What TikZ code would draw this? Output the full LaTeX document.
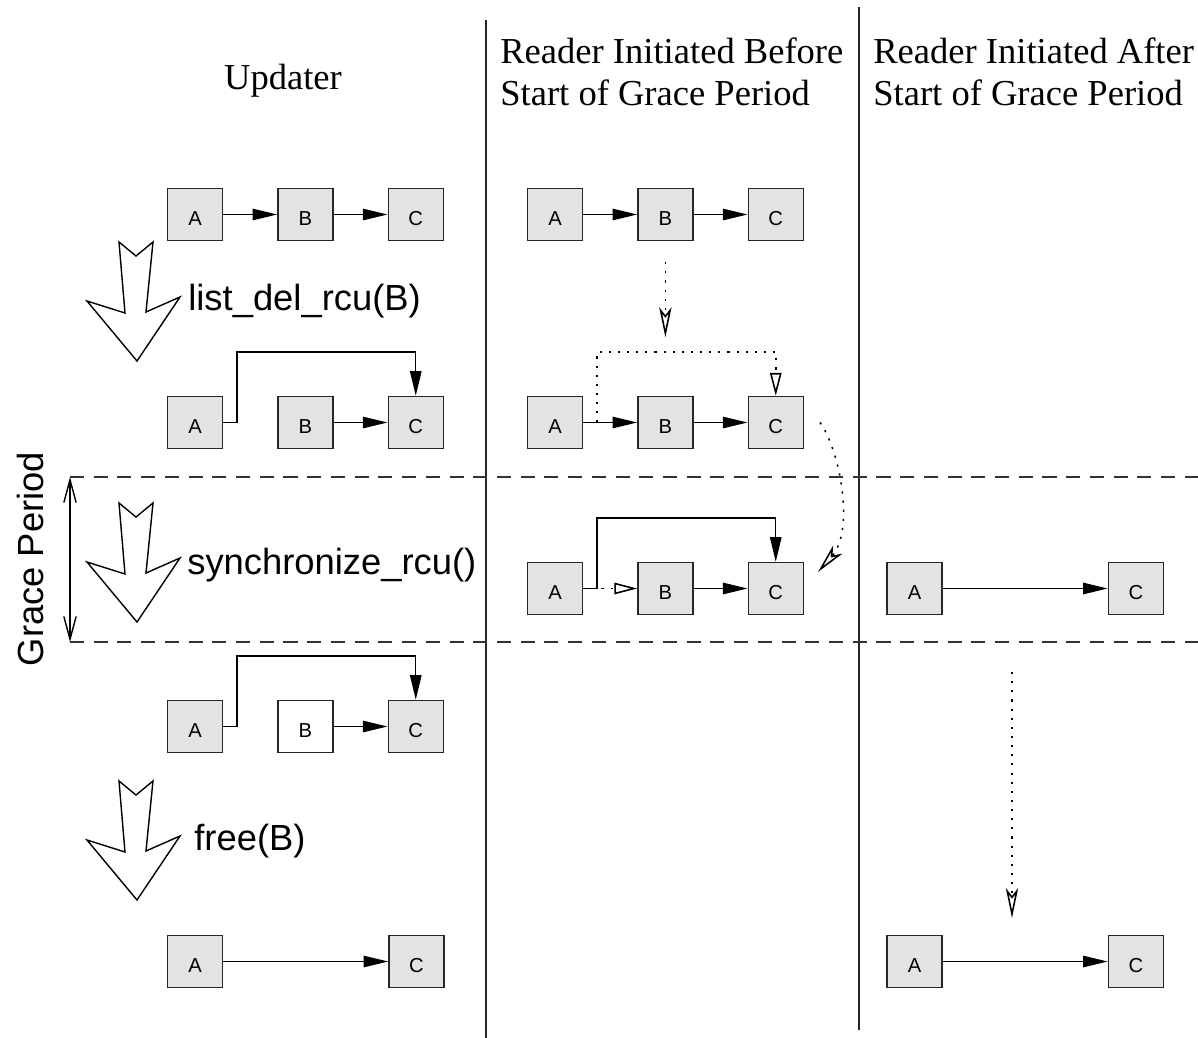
\documentclass[tikz,border=0pt]{standalone}
\usepackage{fontspec}
\setmainfont{Liberation Serif}
\setsansfont{Liberation Sans}
\usetikzlibrary{positioning, arrows.meta, calc}

\tikzset{
    flecha_grande/.pic={
        \draw[line width=0.8pt, fill=white] (0,0) -- (17,14) -- (34,0) -- (27,70) -- (61,55)
            -- (18,119) -- (-32,59) -- (6,71) -- cycle;
    }
}

\begin{document}
\begin{tikzpicture}[
    x=0.02cm, y=-0.02cm,
    node distance=1.08cm,
    nodo/.style={
        rectangle,
        draw=black!85,
        line width=0.8pt,
        fill=black!11, % gris claro
        font=\sffamily\fontsize{11.5}{12}\selectfont,
        text height=13pt, text depth=0pt,
        inner sep=0pt,
        minimum width=1.1cm,
        minimum height=1.04cm,
    },
    nodo_libre/.style={nodo, fill=white}, % B ya liberado
    titulo/.style={font=\fontsize{20.8}{23.8}\selectfont, inner sep=0pt, align=left},
    etiqueta/.style={font=\sffamily\fontsize{20.7}{24}\selectfont, inner sep=0pt},
    arr/.style={-{Triangle[length=14pt, width=6.5pt]}, line width=0.8pt},
    punteado/.style={line width=0.9pt, dash pattern=on 1.2pt off 4pt},
    arr_punto/.style={punteado, -{Stealth[open, length=17pt, width=7pt, inset=4.5pt]}},
    arr_tri/.style={punteado, -{Triangle[open, length=13pt, width=6.5pt]}},
    rayas/.style={line width=0.8pt, draw=black!80, dash pattern=on 8pt off 5.5pt},
    columna/.style={line width=0.9pt, draw=black!85},
]
\useasboundingbox (0,0) rectangle (1198,1038);

% Titulos
\node[titulo, anchor=base] (tit_upd) at (283,89) {Updater};
\node[titulo, anchor=north west] (tit_antes) at (500,37.5) {Reader Initiated Before\\Start of Grace Period};
\node[titulo, anchor=north west] (tit_despues) at (873,37.5) {Reader Initiated After\\Start of Grace Period};

% Columnas y periodo de gracia
\draw[columna] (486,20) -- (486,1038);
\draw[columna] (859,7) -- (859,1030);
\coordinate (gracia_ini) at (70,477);
\coordinate (gracia_fin) at (70,642);
\draw[rayas] (gracia_ini) -- (1198,477);
\draw[rayas] (gracia_fin) -- (1198,642);
\draw[{Straight Barb[length=13pt, width=7pt]}-{Straight Barb[length=13pt, width=7pt]}, line width=0.8pt] (gracia_ini) -- (gracia_fin);
\node[etiqueta, rotate=90, anchor=base] (gracia) at (43,559) {Grace Period};

% Flechas grandes del updater
\pic at (119,242) {flecha_grande};
\pic at (119,503) {flecha_grande};
\pic at (119,781) {flecha_grande};
\node[etiqueta, anchor=base west] (del) at (188,310) {list\_del\_rcu(B)};
\node[etiqueta, anchor=base west] (sync) at (187,574) {synchronize\_rcu()};
\node[etiqueta, anchor=base west] (libre) at (194,850) {free(B)};

% Nodos - updater
\node[nodo] (upa1) at (195,214.5) {A};
\node[nodo, right=of upa1] (upb1) {B};
\node[nodo, right=of upb1] (upc1) {C};
\node[nodo] (upa2) at (195,422.5) {A};
\node[nodo, right=of upa2] (upb2) {B};
\node[nodo, right=of upb2] (upc2) {C};
\node[nodo] (upa4) at (195,726.5) {A};
\node[nodo_libre, right=of upa4] (upb4) {B};
\node[nodo, right=of upb4] (upc4) {C};
\node[nodo] (upa5) at (195,961.5) {A};
\node[nodo, right=3.3cm of upa5] (upc5) {C};

% Nodos - lector iniciado antes
\node[nodo] (anta1) at (555,214.5) {A};
\node[nodo, right=of anta1] (antb1) {B};
\node[nodo, right=of antb1] (antc1) {C};
\node[nodo] (anta2) at (555,422.5) {A};
\node[nodo, right=of anta2] (antb2) {B};
\node[nodo, right=of antb2] (antc2) {C};
\node[nodo] (anta3) at (555,588.5) {A};
\node[nodo, right=of anta3] (antb3) {B};
\node[nodo, right=of antb3] (antc3) {C};

% Nodos - lector iniciado despues
\node[nodo] (desa3) at (914.5,588.5) {A};
\node[nodo, right=3.3cm of desa3] (desc3) {C};
\node[nodo] (desa5) at (914.5,961.5) {A};
\node[nodo, right=3.3cm of desa5] (desc5) {C};

% Conexiones - updater
\draw[arr] (upa1) -- (upb1);
\draw[arr] (upb1) -- (upc1);
\draw[arr] (upa2.east) -- ++(14,0) |- ($(upc2.north)+(0,-44)$) -- (upc2.north);
\draw[arr] (upb2) -- (upc2);
\draw[arr] (upa4.east) -- ++(14,0) |- ($(upc4.north)+(0,-44)$) -- (upc4.north);
\draw[arr] (upb4) -- (upc4);
\draw[arr] (upa5) -- (upc5);

% Conexiones - lector antes
\draw[arr] (anta1) -- (antb1);
\draw[arr] (antb1) -- (antc1);
\draw[arr] (anta2) -- (antb2);
\draw[arr] (antb2) -- (antc2);
\draw[arr_tri] ($(anta2.east)+(14,0)$) |- ($(antc2.north)+(0,-44)$) -- (antc2.north);
\draw[arr_tri] (anta3) -- (antb3);
\draw[arr] (anta3.east) -- ++(14,0) |- ($(antc3.north)+(0,-44)$) -- (antc3.north);
\draw[arr] (antb3) -- (antc3);

% Conexiones - lector despues
\draw[arr] (desa3) -- (desc3);
\draw[arr] (desa5) -- (desc5);

% Avance de los lectores
\coordinate (baja_ini) at ($(antb1.south)+(0,21)$);
\coordinate (baja_fin) at ($(antb1.south)+(0,96)$);
\draw[arr_punto] (baja_ini) -- (baja_fin);
\coordinate (curva_ini) at ($(antc2.east)+(16,0)$);
\coordinate (curva_fin) at ($(antc3.east)+(14,-16.5)$);
\draw[arr_punto] (curva_ini) .. controls (840,450) and (855,530) .. (curva_fin);
\coordinate (desp_ini) at (1012,672);
\coordinate (desp_fin) at (1012,918);
\draw[arr_punto] (desp_ini) -- (desp_fin);

\end{tikzpicture}
\end{document}
